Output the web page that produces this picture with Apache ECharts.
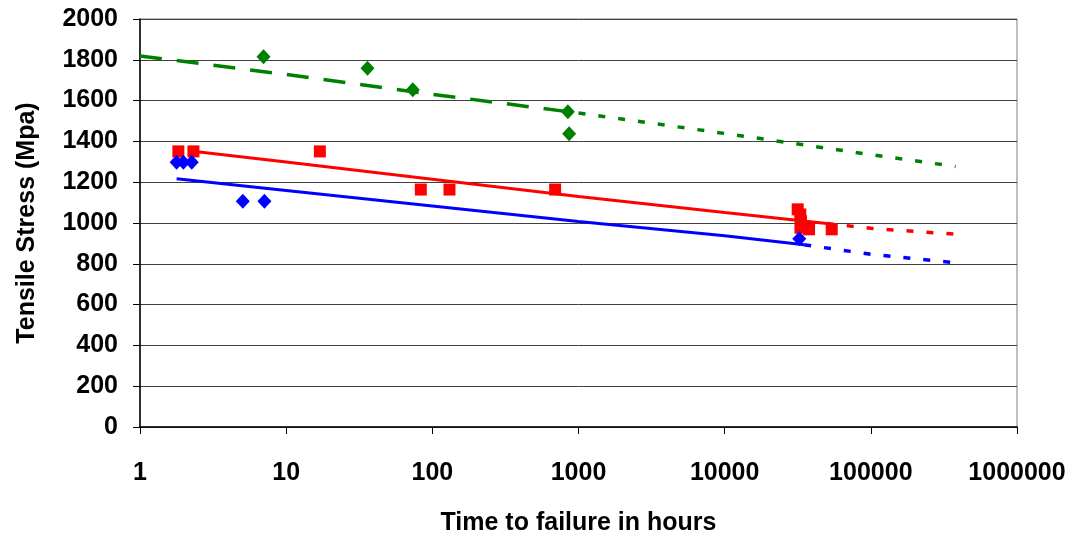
<!DOCTYPE html>
<html lang="en">
<head>
    <meta charset="UTF-8">
    <title>Tensile Stress vs Time to failure</title>
    <script src="https://cdn.jsdelivr.net/npm/echarts@6/dist/echarts.min.js"></script>
    <style>
        html, body { margin: 0; padding: 0; background: #ffffff; }
        #chart { width: 1086px; height: 541px; }
    </style>
</head>
<body>
<div id="chart"></div>
<script>
    // measured points (hours, MPa)
    var greenX = [7, 36, 73.5, 846, 863];
    var greenY = [1815, 1759, 1653, 1545, 1438];
    var redX = [1.83, 2.32, 17, 83.4, 131, 692, 31600, 32900, 33300, 33000, 37800, 54000];
    var redY = [1351, 1351, 1351, 1164, 1164, 1164, 1067, 1042, 1009, 977, 969, 969];
    var blueX = [1.78, 1.98, 2.26, 5.05, 7.1, 32400];
    var blueY = [1298, 1298, 1298, 1107, 1107, 923];

    // trend lines: fitted part and extrapolated part
    var greenFitX = [1, 10, 100, 1000];
    var greenFitY = [1819, 1728, 1631, 1539];
    var greenExtX = [1000, 10000, 100000, 380000];
    var greenExtY = [1539, 1439, 1335, 1277];
    var redFitX = [2.38, 10, 100, 1000, 10000, 50000];
    var redFitY = [1351, 1299, 1214, 1130, 1052, 998];
    var redExtX = [50000, 100000, 400000];
    var redExtY = [998, 974, 944];
    var blueFitX = [1.78, 10, 100, 1000, 10000, 35000];
    var blueFitY = [1217, 1159, 1083, 1007, 938, 893];
    var blueExtX = [35000, 100000, 400000];
    var blueExtY = [893, 847, 803];

    function pairs(xs, ys) {
        return xs.map(function (x, i) { return [x, ys[i]]; });
    }

    var fontBase = {
        fontFamily: 'Liberation Sans, Arial, sans-serif',
        fontWeight: 'bold',
        fontSize: 25,
        color: '#000'
    };

    function lineSeries(xs, ys, color, type, width) {
        return {
            type: 'line',
            data: pairs(xs, ys),
            showSymbol: false,
            symbol: 'none',
            lineStyle: { color: color, width: width, type: type, cap: 'butt' },
            z: 2
        };
    }

    function markSeries(xs, ys, color, symbol, size) {
        return {
            type: 'scatter',
            data: pairs(xs, ys),
            symbol: symbol,
            symbolSize: size,
            itemStyle: { color: color, opacity: 1 },
            z: 3
        };
    }

    var myChart = echarts.init(document.getElementById('chart'));
    myChart.setOption({
        animation: false,
        backgroundColor: '#ffffff',
        grid: {
            left: 140, right: 69, top: 19, bottom: 113,
            show: true, borderColor: '#808080', borderWidth: 1
        },
        xAxis: {
            type: 'log',
            logBase: 10,
            min: 1,
            max: 1000000,
            name: 'Time to failure in hours',
            nameLocation: 'middle',
            nameGap: 84,
            nameTextStyle: fontBase,
            axisLine: { lineStyle: { color: '#000', width: 1.5 } },
            axisTick: { show: true, inside: false, length: 7, lineStyle: { color: '#000' } },
            axisLabel: Object.assign({}, fontBase, {
                margin: 34,
                formatter: function (v) { return String(Math.round(v)); }
            }),
            splitLine: { show: false }
        },
        yAxis: {
            type: 'value',
            min: 0,
            max: 2000,
            interval: 200,
            name: 'Tensile Stress (Mpa)',
            nameLocation: 'middle',
            nameGap: 100,
            nameTextStyle: fontBase,
            axisLine: { show: true, lineStyle: { color: '#000', width: 1.5 } },
            axisTick: { show: true, inside: false, length: 7, lineStyle: { color: '#000' } },
            axisLabel: Object.assign({}, fontBase, {
                margin: 22,
                formatter: function (v) { return String(v); }
            }),
            splitLine: { show: true, lineStyle: { color: '#404040', width: 1 } }
        },
        series: [
            lineSeries(greenFitX, greenFitY, '#008000', [22, 15], 3.5),
            lineSeries(greenExtX, greenExtY, '#008000', [7, 13], 3.5),
            lineSeries(redFitX, redFitY, '#ff0000', 'solid', 3),
            lineSeries(redExtX, redExtY, '#ff0000', [7, 13], 3.5),
            lineSeries(blueFitX, blueFitY, '#0000ff', 'solid', 3),
            lineSeries(blueExtX, blueExtY, '#0000ff', [7, 13], 3.5),
            markSeries(greenX, greenY, '#008000', 'diamond', [14, 15]),
            markSeries(redX, redY, '#ff0000', 'rect', 12),
            markSeries(blueX, blueY, '#0000ff', 'diamond', [14, 15])
        ]
    });
</script>
</body>
</html>
